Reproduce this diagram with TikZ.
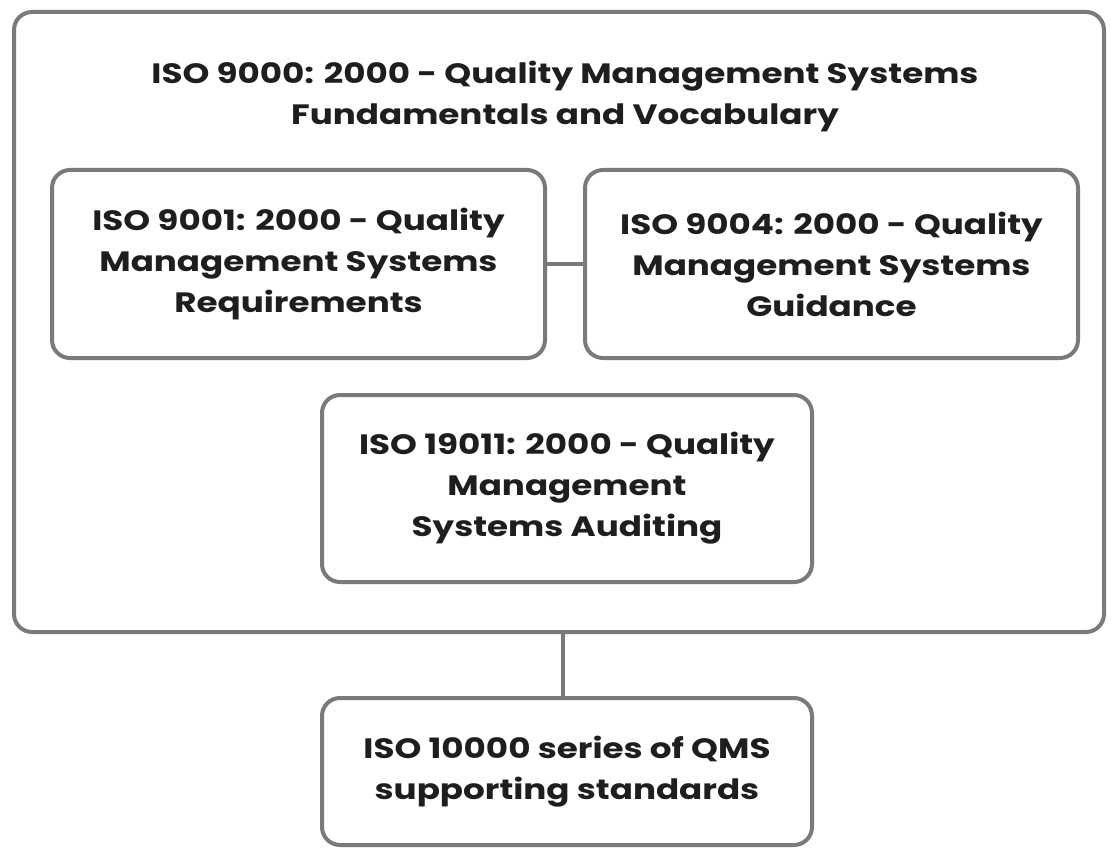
\documentclass[tikz,border=0pt]{standalone}
\usepackage{fontspec}
\setmainfont{Poppins}[FakeStretch=1.22]
\definecolor{frame}{HTML}{7A7A7A}
\definecolor{ink}{HTML}{1E1E1E}
\begin{document}
\begin{tikzpicture}[x=1pt,y=-1pt,
  panel/.style={draw=frame, line width=4pt, rounded corners=18pt, fill=white},
  label/.style={text=ink, font=\fontsize{28}{41}\selectfont\bfseries, align=center, inner sep=0pt},
  link/.style={draw=frame, line width=4pt}]
\useasboundingbox[fill=white] (0,0) rectangle (1112,848);
% outer frame with its heading
\draw[panel] (14,12) rectangle (1104,632);
\node[label] (title) at (565,96) {ISO 9000: 2000 - Quality Management Systems\\Fundamentals and Vocabulary};
% inner boxes
\node[panel, minimum width=493pt, minimum height=188pt] (req) at (298.5,264) {};
\node[label] at (req.center) {ISO 9001: 2000 - Quality\\Management Systems\\Requirements};
\node[panel, minimum width=493pt, minimum height=188pt] (gui) at (831.5,264) {};
\node[label] at (gui.center) {ISO 9004: 2000 - Quality\\Management Systems\\Guidance};
\node[panel, minimum width=490pt, minimum height=187pt] (aud) at (567,488.5) {};
\node[label] at (aud.center) {ISO 19011: 2000 - Quality\\Management\\Systems Auditing};
\node[panel, minimum width=490pt, minimum height=147pt] (sup) at (567,771.5) {};
\node[label] at (sup.center) {ISO 10000 series of QMS\\supporting standards};
\coordinate (outerbottom) at (563,632);
% connectors
\draw[link] (req.east) -- (gui.west);
\draw[link] (outerbottom) -- (outerbottom |- sup.north);
\end{tikzpicture}
\end{document}
